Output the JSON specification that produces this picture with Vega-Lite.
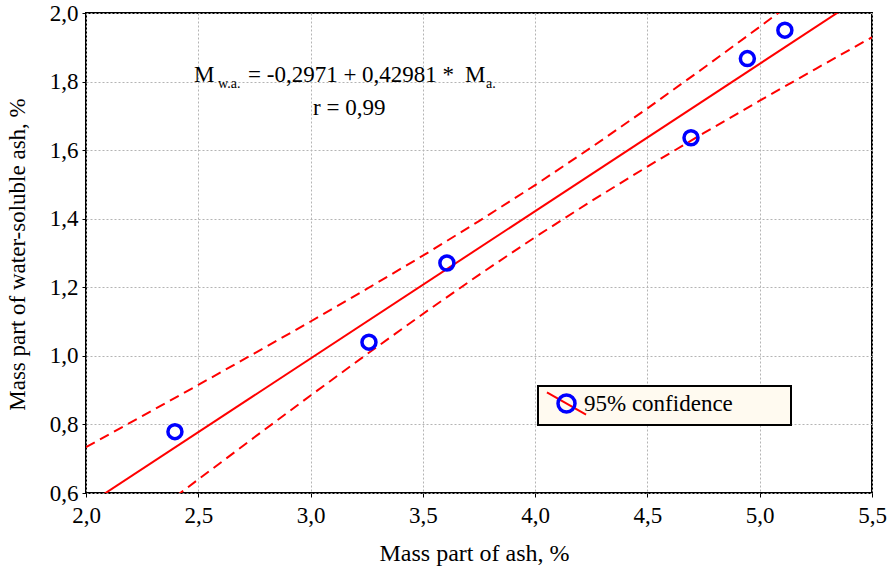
{
  "$schema": "https://vega.github.io/schema/vega-lite/v6.json",
  "width": 786,
  "height": 480,
  "autosize": {"type": "none"},
  "padding": {"left": 86, "top": 13, "right": 17, "bottom": 75},
  "background": "white",
  "config": {
    "locale": {"number": {"decimal": ",", "thousands": " ", "grouping": [3], "currency": ["", ""]}},
    "font": "Liberation Serif",
    "view": {"stroke": "black", "strokeWidth": 2},
    "axis": {
      "labelFont": "Liberation Serif",
      "labelFontSize": 23,
      "labelColor": "black",
      "labelFlush": false,
      "labelOverlap": false,
      "titleFont": "Liberation Serif",
      "titleFontSize": 23,
      "titleFontWeight": "normal",
      "titleColor": "black",
      "domain": false,
      "tickColor": "black",
      "tickSize": 4,
      "tickWidth": 1,
      "gridColor": "#b4b4b4",
      "gridDash": [2, 2],
      "gridWidth": 1
    }
  },
  "datasets": {
    "points": [
      {"ash": 2.396, "wsa": 0.779, "series2": "95% confidence"},
      {"ash": 3.260, "wsa": 1.040, "series2": "95% confidence"},
      {"ash": 3.607, "wsa": 1.271, "series2": "95% confidence"},
      {"ash": 4.694, "wsa": 1.636, "series2": "95% confidence"},
      {"ash": 4.945, "wsa": 1.867, "series2": "95% confidence"},
      {"ash": 5.112, "wsa": 1.950, "series2": "95% confidence"}
    ],
    "fit": [
      {"ash": 2.0, "wsa": 0.5625, "series": "95% confidence"},
      {"ash": 5.5, "wsa": 2.0669, "series": "95% confidence"}
    ],
    "band": [
      {"ash": 2.0, "wsa": 0.7336, "side": "upper"},
      {"ash": 2.25, "wsa": 0.8242, "side": "upper"},
      {"ash": 2.5, "wsa": 0.9152, "side": "upper"},
      {"ash": 2.75, "wsa": 1.0072, "side": "upper"},
      {"ash": 3.0, "wsa": 1.1002, "side": "upper"},
      {"ash": 3.25, "wsa": 1.1951, "side": "upper"},
      {"ash": 3.5, "wsa": 1.2922, "side": "upper"},
      {"ash": 3.75, "wsa": 1.3930, "side": "upper"},
      {"ash": 4.0, "wsa": 1.4980, "side": "upper"},
      {"ash": 4.25, "wsa": 1.6078, "side": "upper"},
      {"ash": 4.5, "wsa": 1.7219, "side": "upper"},
      {"ash": 4.75, "wsa": 1.8396, "side": "upper"},
      {"ash": 5.0, "wsa": 1.9597, "side": "upper"},
      {"ash": 5.25, "wsa": 2.0815, "side": "upper"},
      {"ash": 5.5, "wsa": 2.2045, "side": "upper"},
      {"ash": 2.0, "wsa": 0.3914, "side": "lower"},
      {"ash": 2.25, "wsa": 0.5158, "side": "lower"},
      {"ash": 2.5, "wsa": 0.6396, "side": "lower"},
      {"ash": 2.75, "wsa": 0.7626, "side": "lower"},
      {"ash": 3.0, "wsa": 0.8844, "side": "lower"},
      {"ash": 3.25, "wsa": 1.0045, "side": "lower"},
      {"ash": 3.5, "wsa": 1.1222, "side": "lower"},
      {"ash": 3.75, "wsa": 1.2364, "side": "lower"},
      {"ash": 4.0, "wsa": 1.3462, "side": "lower"},
      {"ash": 4.25, "wsa": 1.4514, "side": "lower"},
      {"ash": 4.5, "wsa": 1.5521, "side": "lower"},
      {"ash": 4.75, "wsa": 1.6494, "side": "lower"},
      {"ash": 5.0, "wsa": 1.7443, "side": "lower"},
      {"ash": 5.25, "wsa": 1.8373, "side": "lower"},
      {"ash": 5.5, "wsa": 1.9293, "side": "lower"}
    ]
  },
  "layer": [
    {
      "data": {"name": "band"},
      "mark": {"type": "line", "clip": true, "color": "#ff0000", "strokeWidth": 2, "strokeDash": [10, 6]},
      "encoding": {
        "x": {
          "field": "ash", "type": "quantitative",
          "scale": {"domain": [2.0, 5.5], "nice": false, "zero": false},
          "axis": {"values": [2, 2.5, 3, 3.5, 4, 4.5, 5, 5.5], "format": ".1f", "labelPadding": 7, "title": "Mass part of ash, %", "titleFontSize": 24, "titleX": 388, "titleY": 67, "titleBaseline": "alphabetic"}
        },
        "y": {
          "field": "wsa", "type": "quantitative",
          "scale": {"domain": [0.6, 2.0], "nice": false, "zero": false},
          "axis": {"values": [0.6, 0.8, 1.0, 1.2, 1.4, 1.6, 1.8, 2.0], "format": ".1f", "labelPadding": 4, "title": "Mass part of water-soluble ash, %", "titleX": -62, "titleY": 241, "titleBaseline": "alphabetic"}
        },
        "detail": {"field": "side"}
      }
    },
    {
      "data": {"name": "fit"},
      "mark": {"type": "line", "clip": true, "strokeWidth": 2},
      "encoding": {
        "x": {"field": "ash", "type": "quantitative"},
        "y": {"field": "wsa", "type": "quantitative"},
        "color": {
          "field": "series", "type": "nominal",
          "scale": {"range": ["#ff0000"]},
          "legend": {
            "orient": "none", "legendX": 452, "legendY": 373, "title": null,
            "fillColor": "#fffaf0", "strokeColor": "black", "padding": 6,
            "symbolType": "M-2.3,-1.3L2.3,1.3", "symbolSize": 289, "symbolStrokeWidth": 2,
            "symbolOffset": 11, "labelOffset": 6,
            "labelFont": "Liberation Serif", "labelFontSize": 23, "labelColor": "black",
            "labelExpr": "'95% confidence\u00a0\u00a0\u00a0\u00a0\u00a0\u00a0\u00a0\u00a0\u00a0\u200b'",
            "labelLimit": 400,
            "encode": {"legend": {"update": {"strokeWidth": {"value": 2}}}}
          }
        }
      }
    },
    {
      "data": {"name": "points"},
      "mark": {"type": "point", "filled": false, "color": "#0000ff", "size": 196, "strokeWidth": 3.5, "opacity": 1},
      "encoding": {
        "x": {"field": "ash", "type": "quantitative"},
        "y": {"field": "wsa", "type": "quantitative"},
        "shape": {
          "field": "series2", "type": "nominal",
          "scale": {"range": ["circle"]},
          "legend": {
            "orient": "none", "legendX": 452, "legendY": 373, "title": null,
            "padding": 6, "symbolSize": 289, "symbolStrokeWidth": 3.5,
            "symbolStrokeColor": "#0000ff", "symbolFillColor": "white",
            "symbolOffset": 11, "labelOffset": 6,
            "labelFontSize": 23, "labelExpr": "''"
          }
        }
      }
    },
    {
      "data": {"values": [{"label": "M"}]},
      "mark": {"type": "text", "align": "left", "baseline": "alphabetic", "font": "Liberation Serif", "fontSize": 23, "fill": "black"},
      "encoding": {"x": {"datum": 2.4809, "type": "quantitative"}, "y": {"datum": 1.8002, "type": "quantitative"}, "text": {"field": "label"}}
    },
    {
      "data": {"values": [{"label": "w.a."}]},
      "mark": {"type": "text", "align": "left", "baseline": "alphabetic", "font": "Liberation Serif", "fontSize": 14, "fill": "black"},
      "encoding": {"x": {"datum": 2.5878, "type": "quantitative"}, "y": {"datum": 1.7812, "type": "quantitative"}, "text": {"field": "label"}}
    },
    {
      "data": {"values": [{"label": "= -0,2971 + 0,42981 *"}]},
      "mark": {"type": "text", "align": "left", "baseline": "alphabetic", "font": "Liberation Serif", "fontSize": 23, "fill": "black"},
      "encoding": {"x": {"datum": 2.7214, "type": "quantitative"}, "y": {"datum": 1.8002, "type": "quantitative"}, "text": {"field": "label"}}
    },
    {
      "data": {"values": [{"label": "M"}]},
      "mark": {"type": "text", "align": "left", "baseline": "alphabetic", "font": "Liberation Serif", "fontSize": 23, "fill": "black"},
      "encoding": {"x": {"datum": 3.6877, "type": "quantitative"}, "y": {"datum": 1.8002, "type": "quantitative"}, "text": {"field": "label"}}
    },
    {
      "data": {"values": [{"label": "a."}]},
      "mark": {"type": "text", "align": "left", "baseline": "alphabetic", "font": "Liberation Serif", "fontSize": 14, "fill": "black"},
      "encoding": {"x": {"datum": 3.7812, "type": "quantitative"}, "y": {"datum": 1.7812, "type": "quantitative"}, "text": {"field": "label"}}
    },
    {
      "data": {"values": [{"label": "r = 0,99"}]},
      "mark": {"type": "text", "align": "left", "baseline": "alphabetic", "font": "Liberation Serif", "fontSize": 23, "fill": "black"},
      "encoding": {"x": {"datum": 3.0108, "type": "quantitative"}, "y": {"datum": 1.7025, "type": "quantitative"}, "text": {"field": "label"}}
    }
  ]
}
